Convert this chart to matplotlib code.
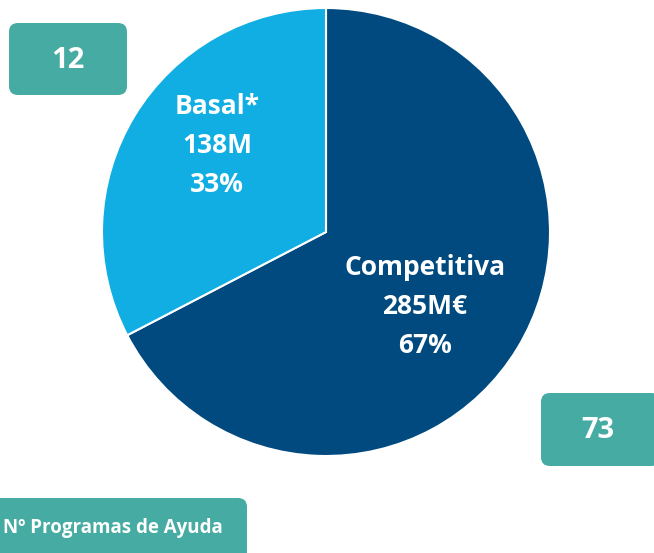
import matplotlib
matplotlib.use("Agg")
import matplotlib.pyplot as plt
from matplotlib.patches import FancyBboxPatch

categories = ["Competitiva", "Basal*"]
values = [285, 138]
value_labels = ["285M€", "138M"]
pct_labels = ["67%", "33%"]
colors = ["#004A80", "#10AEE2"]
programs = ["73", "12"]
legend_text = "Nº Programas de Ayuda"

W, H = 654, 553
fig = plt.figure(figsize=(W / 100, H / 100), dpi=100)

# pie axes (y up, pixel units)
ax2 = fig.add_axes([0, 0, 1, 1])
cx, cy, r = 326, H - 232, 224
ax2.pie(values, colors=colors, startangle=90, counterclock=False,
        center=(cx, cy), radius=r, frame=True,
        wedgeprops=dict(edgecolor="white", linewidth=1.5))
ax2.set_xlim(0, W)
ax2.set_ylim(0, H)
ax2.set_aspect("equal")
ax2.axis("off")

# overlay axes (y down, pixel units)
ax = fig.add_axes([0, 0, 1, 1])
ax.set_xlim(0, W)
ax.set_ylim(H, 0)
ax.set_aspect("equal")
ax.axis("off")
ax.patch.set_alpha(0)

font = ["Open Sans", "DejaVu Sans"]
fs = 19
ax.text(425, 306.5, f"{categories[0]}\n{value_labels[0]}\n{pct_labels[0]}",
        ha="center", va="center", color="white", fontsize=fs,
        fontweight="bold", family=font, linespacing=1.55)
ax.text(217, 145.5, f"{categories[1]}\n{value_labels[1]}\n{pct_labels[1]}",
        ha="center", va="center", color="white", fontsize=fs,
        fontweight="bold", family=font, linespacing=1.55)

teal = "#46ABA2"
def box(x0, y0, x1, y1):
    p = FancyBboxPatch((x0, y0), x1 - x0, y1 - y0,
                       boxstyle="round,pad=0,rounding_size=9",
                       facecolor=teal, edgecolor="none", zorder=3)
    ax.add_patch(p)

box(9, 23, 127, 95)
ax.text(68, 60, programs[1], ha="center", va="center", color="white",
        fontsize=21, fontweight="bold", family=font, zorder=4)
box(541, 393, 660, 466)
ax.text(598, 431, programs[0], ha="center", va="center", color="white",
        fontsize=21, fontweight="bold", family=font, zorder=4)
box(-20, 498, 247, 570)
ax.text(223, 528, legend_text, ha="right", va="center", color="white",
        fontsize=13.5, fontweight="bold", family=font, zorder=4)

fig.savefig("out.png", dpi=100)
